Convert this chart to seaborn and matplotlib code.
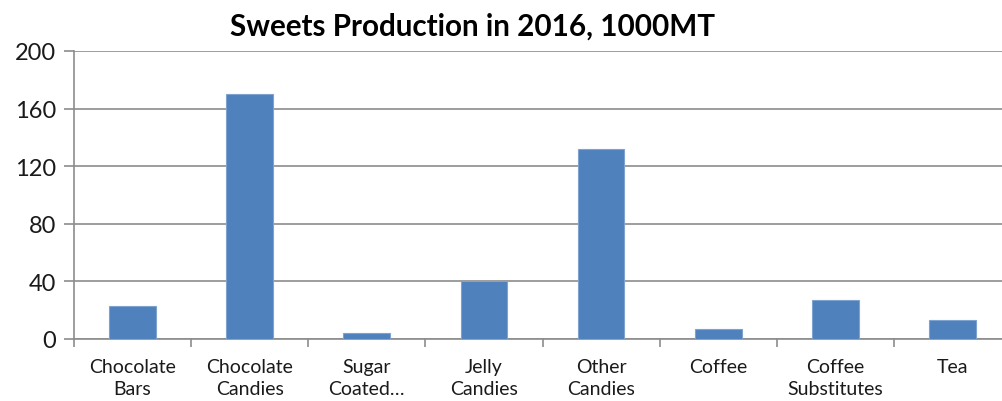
import matplotlib
matplotlib.use("Agg")
import matplotlib.pyplot as plt
import seaborn as sns
import pandas as pd
import numpy as np

categories = ["Chocolate\nBars", "Chocolate\nCandies", "Sugar\nCoated…", "Jelly\nCandies",
              "Other\nCandies", "Coffee", "Coffee\nSubstitutes", "Tea"]
production = [23, 170, 4, 40, 132, 7, 27, 13]
y_ticks = [0, 40, 80, 120, 160, 200]
title = "Sweets Production in 2016, 1000MT"

sns.set_theme(style="white")
plt.rcParams["font.family"] = ["Lato", "DejaVu Sans"]

df = pd.DataFrame({"category": categories, "value": production})

fig = plt.figure(figsize=(10.03, 4.02), dpi=100)
ax = fig.add_axes([74 / 1003, 62 / 402, (1011 - 74) / 1003, 288 / 402])

sns.barplot(data=df, x="category", y="value", color="#4F81BD", width=0.4,
            saturation=1, edgecolor="#7FA3D0", linewidth=0.8, ax=ax, zorder=3)

ax.set_ylim(0, 200)
ax.set_xlim(-0.5, len(categories) - 0.5)
ax.set_yticks(y_ticks)
ax.set_yticklabels([str(v) for v in y_ticks], fontsize=17, color="#1a1a1a")
ax.yaxis.grid(True, color="#8c8c8c", linewidth=1.2, zorder=0)
ax.set_axisbelow(True)

ax.set_xticks(range(len(categories)))
ax.set_xticklabels(categories, fontsize=14, color="#1a1a1a", linespacing=1.3)
ax.set_xticks(np.arange(-0.5, len(categories)), minor=True)
ax.tick_params(axis="x", which="major", length=0, pad=14)
ax.tick_params(axis="x", which="minor", length=6, width=1.2, color="#8c8c8c", direction="out")
ax.tick_params(axis="y", which="major", length=7, width=1.2, color="#8c8c8c", direction="out", pad=6)
ax.tick_params(left=True, bottom=True, which="both")

for side in ["top", "right"]:
    ax.spines[side].set_visible(False)
for side in ["left", "bottom"]:
    ax.spines[side].set_color("#8c8c8c")
    ax.spines[side].set_linewidth(1.2)

ax.set_xlabel("")
ax.set_ylabel("")
fig.text(0.471, 0.935, title, ha="center", va="center", fontsize=21.3, fontweight="bold", color="black")

fig.savefig("out.png", dpi=100, facecolor="white")
